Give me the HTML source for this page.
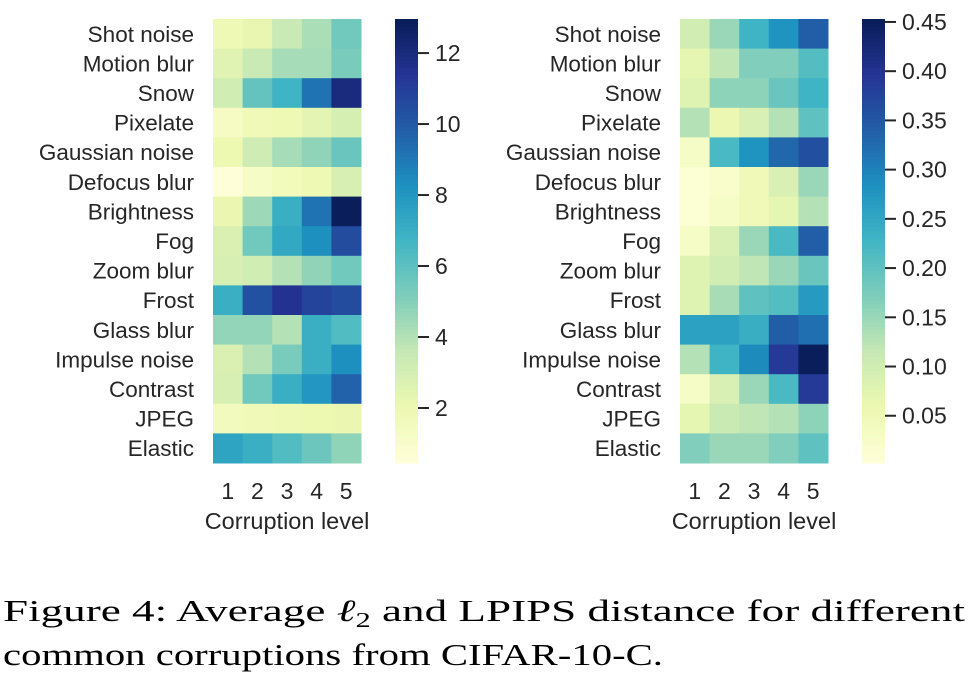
<!DOCTYPE html>
<html><head><meta charset="utf-8"><style>
html,body{margin:0;padding:0;background:#fff;width:980px;height:690px;overflow:hidden}
svg{display:block}
text{font-family:"Liberation Sans",sans-serif;fill:#262626}
.cap{font-family:"Liberation Serif",serif;fill:#000}
</style></head><body>
<svg id="fig" width="980" height="690"></svg>
<script>
const categories=["Shot noise","Motion blur","Snow","Pixelate","Gaussian noise","Defocus blur","Brightness","Fog","Zoom blur","Frost","Glass blur","Impulse noise","Contrast","JPEG","Elastic"];
const levels=[1,2,3,4,5];
const l2Values=[
[1.8,2.2,3.5,4.2,5.5],[2.5,3.5,4.3,4.3,5.3],[3.2,5.8,6.8,9.2,12.0],[1.3,1.7,1.9,2.4,3.0],
[2.0,3.3,4.3,4.8,5.7],[0.5,1.2,1.6,1.9,2.9],[2.1,4.5,7.0,9.2,12.9],[2.8,5.5,7.3,8.3,10.5],
[2.9,3.2,4.0,4.8,5.5],[7.0,10.3,11.5,10.8,10.5],[4.7,4.7,4.0,7.0,6.3],[2.8,4.0,5.3,7.0,8.3],
[2.9,5.5,7.0,8.0,9.7],[1.5,1.7,1.8,2.0,2.1],[7.5,7.0,6.3,5.6,4.8]];
const lpipsValues=[
[0.10,0.15,0.23,0.28,0.34],[0.07,0.12,0.17,0.17,0.21],[0.08,0.16,0.16,0.19,0.23],[0.13,0.06,0.09,0.13,0.20],
[0.03,0.22,0.28,0.33,0.36],[0.01,0.02,0.05,0.09,0.15],[0.01,0.03,0.05,0.07,0.13],[0.03,0.09,0.15,0.22,0.34],
[0.08,0.10,0.12,0.15,0.19],[0.08,0.14,0.20,0.21,0.27],[0.26,0.26,0.24,0.34,0.32],[0.13,0.23,0.29,0.39,0.45],
[0.03,0.09,0.15,0.22,0.39],[0.07,0.11,0.12,0.13,0.16],[0.17,0.15,0.15,0.17,0.20]];
const l2Ticks=[2,4,6,8,10,12];
const l2TickLabels=["2","4","6","8","10","12"];
const lpipsTicks=[0.05,0.10,0.15,0.20,0.25,0.30,0.35,0.40,0.45];
const lpipsTickLabels=["0.05","0.10","0.15","0.20","0.25","0.30","0.35","0.40","0.45"];

const stops=["#ffffd9","#edf8b1","#c7e9b4","#7fcdbb","#41b6c4","#1d91c0","#225ea8","#253494","#081d58"].map(h=>[1,3,5].map(i=>parseInt(h.substr(i,2),16)));
function cmap(t){t=Math.max(0,Math.min(1,t));const p=t*8,i=Math.min(7,Math.floor(p)),f=p-i;
 const c=stops[i].map((v,k)=>Math.round(v+(stops[i+1][k]-v)*f));return `rgb(${c})`;}
const NS="http://www.w3.org/2000/svg",svg=document.getElementById('fig');
function el(tag,attrs,parent,txt){const e=document.createElementNS(NS,tag);for(const k in attrs)e.setAttribute(k,attrs[k]);if(txt!==undefined)e.textContent=txt;(parent||svg).appendChild(e);return e;}

function panel(id,x0,cbx,vals,vmin,vmax,ticks,tickLabels){
 const g=el('g',{});
 
 
 const top=19,bot=463,w=148,ch=(bot-top)/categories.length,cw=w/levels.length;
 const xs=i=>x0+i*cw, ys=j=>top+j*ch, norm=v=>(v-vmin)/(vmax-vmin);
 vals.forEach((row,j)=>row.forEach((v,i)=>{
  const r=el('rect',{x:xs(i),y:ys(j),width:cw+0.5,height:ch+0.5,fill:cmap(norm(v))},g);
  
  
 }));
 categories.forEach((c,j)=>{const t=el('text',{x:x0-19,y:ys(j)+ch/2+8,'text-anchor':'end','font-size':22.5},g,c);
  });
 levels.forEach((l,i)=>{const t=el('text',{x:xs(i)+cw/2,y:499,'text-anchor':'middle','font-size':23},g,l);
  });
 const xt=el('text',{x:x0+w/2,y:529,'text-anchor':'middle','font-size':23.5},g,'Corruption level');
 
 const cb=el('g',{},g);
 
 
 const cbw=23,n=120;
 for(let k=0;k<n;k++){const t0=k/n;el('rect',{x:cbx,y:bot-(k+1)*(bot-top)/n,width:cbw,height:(bot-top)/n+0.6,fill:cmap(t0+0.5/n)},cb);}
 const yv=v=>bot-norm(v)*(bot-top);
 ticks.forEach((v,k)=>{const y=yv(v);el('line',{x1:cbx+cbw,x2:cbx+cbw+11,y1:y,y2:y,stroke:'#262626','stroke-width':2},cb);
  const t=el('text',{x:cbx+cbw+17,y:y+8,'font-size':23},cb,tickLabels[k]);
  });
}
panel('l2',213,395,l2Values,0.45,12.96,l2Ticks,l2TickLabels);
panel('lpips',680,862,lpipsValues,0.002,0.453,lpipsTicks,lpipsTickLabels);

const c1=el('text',{x:3,y:621,'font-size':31,class:'cap',textLength:962,lengthAdjust:'spacingAndGlyphs'});

c1.innerHTML='Figure 4: Average <tspan font-style="italic">ℓ</tspan><tspan font-size="21" dy="6">2</tspan><tspan dy="-6"> and LPIPS distance for different</tspan>';
const c2=el('text',{x:3,y:665,'font-size':31,class:'cap',textLength:660,lengthAdjust:'spacingAndGlyphs'},null,'common corruptions from CIFAR-10-C.');

</script>
</body></html>
